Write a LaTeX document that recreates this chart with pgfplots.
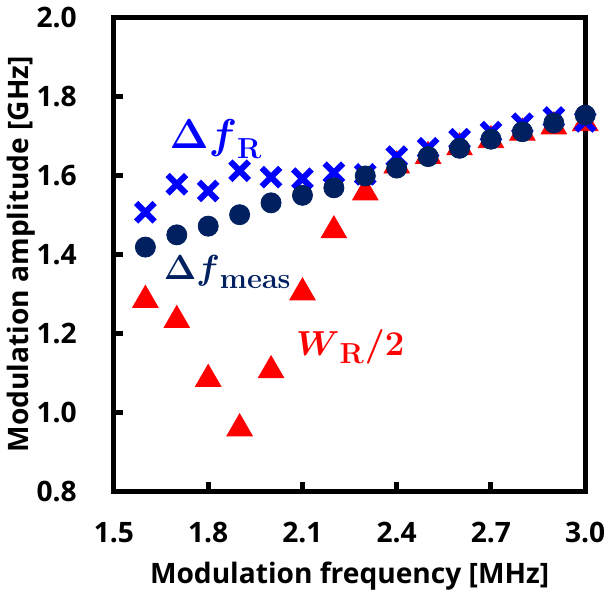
\documentclass[border=0pt]{standalone}
\usepackage{amsmath}
\usepackage[no-math]{fontspec}
\setmainfont{Open Sans}
\usepackage{pgfplots}
\pgfplotsset{compat=1.18}
\definecolor{xblue}{RGB}{0,0,255}
\definecolor{navy}{HTML}{002060}
\definecolor{tred}{RGB}{255,0,0}

\begin{document}
\begin{tikzpicture}
\begin{axis}[
  scale only axis,
  width=234.5pt, height=236pt,
  xmin=1.5, xmax=3.0, ymin=0.8, ymax=2.0,
  xtick={1.5,1.8,...,3.0}, ytick={0.8,1.0,...,2.0},
  xticklabels={1.5,1.8,2.1,2.4,2.7,3.0},
  yticklabels={0.8,1.0,1.2,1.4,1.6,1.8,2.0},
  axis line style={line width=2.5pt},
  tick style={line width=2.5pt, black},
  tick align=inside, major tick length=4.5pt,
  xtick pos=bottom, ytick pos=left,
  tick label style={font=\fontsize{14}{16}\selectfont\bfseries},
  xticklabel style={yshift=-12pt},
  yticklabel style={xshift=-15pt},
  label style={font=\fontsize{14}{16}\selectfont\bfseries},
  xlabel={Modulation frequency [MHz]},
  ylabel={Modulation amplitude [GHz]},
  xlabel style={yshift=-2.5pt},
  ylabel style={yshift=-6pt},
  clip=false,
]
% W_R/2
\addplot[only marks, mark=triangle*, mark size=7.3pt, color=tred] coordinates {
(1.6,1.284) (1.7,1.233) (1.8,1.084) (1.9,0.959) (2.0,1.106) (2.1,1.303)
(2.2,1.460) (2.3,1.556) (2.4,1.624) (2.5,1.648) (2.6,1.670) (2.7,1.688)
(2.8,1.707) (2.9,1.723) (3.0,1.731)};
% Delta f_R
\addplot[only marks, mark=x, mark size=6.5pt, line width=3pt, color=xblue] coordinates {
(1.6,1.506) (1.7,1.577) (1.8,1.560) (1.9,1.611) (2.0,1.595) (2.1,1.591)
(2.2,1.606) (2.3,1.602) (2.4,1.647) (2.5,1.668) (2.6,1.691) (2.7,1.709)
(2.8,1.730) (2.9,1.746) (3.0,1.736)};
% Delta f_meas
\addplot[only marks, mark=*, mark size=5pt, color=navy] coordinates {
(1.6,1.418) (1.7,1.449) (1.8,1.471) (1.9,1.500) (2.0,1.530) (2.1,1.549)
(2.2,1.568) (2.3,1.598) (2.4,1.618) (2.5,1.647) (2.6,1.668) (2.7,1.691)
(2.8,1.710) (2.9,1.732) (3.0,1.752)};
\node[text=xblue, font=\fontsize{20}{22}\selectfont] at (axis cs:1.825,1.691) {$\boldsymbol{\Delta f}_{\mathbf{R}}$};
\node[text=navy, font=\fontsize{19}{22}\selectfont] at (axis cs:1.862,1.355) {$\boldsymbol{\Delta f}_{\mathbf{meas}}$};
\node[text=tred, font=\fontsize{19}{22}\selectfont] at (axis cs:2.252,1.165) {$\boldsymbol{W}_{\mathbf{R}}\boldsymbol{/}\mathbf{2}$};
\end{axis}
\end{tikzpicture}
\end{document}
